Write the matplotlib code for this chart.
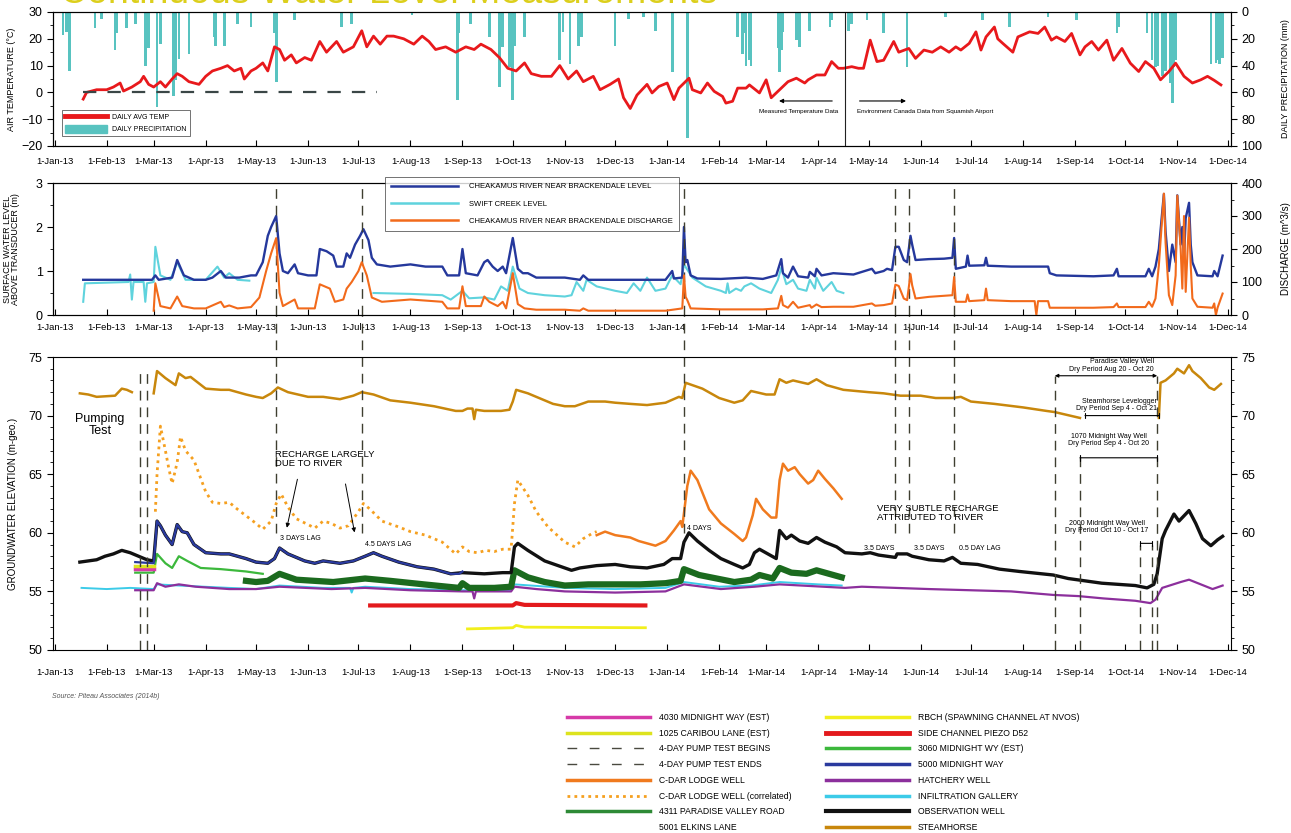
import numpy as np
import matplotlib
matplotlib.use("Agg")
import matplotlib.pyplot as plt
import matplotlib.dates as mdates
from matplotlib.lines import Line2D
from matplotlib.patches import Patch
from matplotlib import font_manager

names = {f.name for f in font_manager.fontManager.ttflist}
NARROW = 'Liberation Sans Narrow' if 'Liberation Sans Narrow' in names else 'Liberation Sans'
plt.rcParams['font.family'] = ['Liberation Sans', 'DejaVu Sans']
plt.rcParams['axes.linewidth'] = 0.8

T0 = np.datetime64('2013-01-01')

# ---- data: (days since 1-Jan-13, value) ----
temp_pts = [(17,-2.5),(19,0),(25,1),(31,1),(35,2),(39,3.5),(41,0.5),(46,2),(51,4),(53,6),(56,3),(59,2),(63,4),(66,2),
            (70,5),(73,7),(76,6),(80,4),(86,3),(90,6),(94,8),(99,9),(103,10),(107,8),(111,9),(113,5),(117,8),(120,9),
            (124,11),(127,8),(131,17),(134,16),(137,12),(141,14),(144,11),(149,13),(153,12),(158,19),(162,15),(168,19),
            (172,15),(178,17),(183,23),(186,17),(190,21),(194,18),(198,21),(202,21),(208,20),(214,18),(219,21),(223,19),
            (227,16),(233,17),(239,15),(245,17),(250,16),(254,18),(260,16),(265,13),(270,9),(275,8),(280,11),(284,7),
            (290,6),(296,6),(301,10),(306,5),(311,8),(315,4),(321,6),(325,1),(331,3),(336,5),(339,-2),(343,-6),(347,-1),
            (353,3),(356,-0.2),(360,2.2),(365,3.5),(369,-2.7),(372,1.6),(378,5.3),(380,1),(385,-0.2),(389,3.5),(393,0.4),
            (398,-1.5),(400,-4),(404,-3.3),(407,1.6),(412,1.6),(414,2.8),(420,-0.2),(424,4.7),(427,-2),(432,1),(437,4),
            (442,5.3),(447,3.5),(449,4.7),(454,6.5),(459,6.5),(463,11.5),(467,9),(470,9),(475,9.6),(479,9),(482,9),
            (486,19.5),(490,11.5),(494,12),(500,19),(503,15),(509,16.4),(513,12.7),(518,15.8),(523,15),(528,17),(533,15),
            (537,17),(540,15.8),(545,18.3),(549,22.6),(552,15.8),(555,20.7),(560,24.4),(562,20),(565,18.3),(571,15),
            (574,20.7),(581,22.6),(586,22),(590,24.4),(594,19.5),(597,20.7),(602,19),(606,22),(611,14),(614,17),(618,19),
            (622,15.8),(627,19.5),(631,12),(636,16.4),(641,10.9),(646,7.8),(650,11.5),(655,9),(659,4.7),(664,7.8),
            (668,10.9),(673,6),(678,3.5),(683,4.7),(687,6),(691,4.5),(695,2.8)]

precip_pts = [(5,17),(7,15),(9,44),(24,12),(28,5),(36,28),(37,16),(43,12),(48,9),(54,40),(56,27),(61,71),(63,24),
              (71,63),(72,51),(74,35),(80,31),(95,19),(96,25),(101,25),(109,9),(117,11),(131,16),(132,52),(143,6),
              (171,11),(177,9),(213,2),(240,66),(241,16),(248,9),(259,19),(265,56),(267,26),(271,41),(272,35),(273,66),
              (274,25),(280,19),(301,36),(303,15),(307,39),(312,25),(314,19),(334,25),(342,5),(351,4),(358,14),(368,45),
              (377,94),(407,19),(410,31),(411,16),(412,40),(414,36),(415,40),(431,27),(432,45),(433,28),(434,15),(442,21),
              (443,10),(444,26),(450,14),(462,11),(463,6),(473,14),(475,9),(484,6),(494,16),(508,41),(531,4),(553,6),
              (569,11),(592,4),(609,6),(633,16),(634,11),(651,16),(654,36),(656,41),(657,40),(660,48),(662,44),(665,53),
              (666,68),(667,41),(668,36),(689,39),(692,38),(693,36),(694,39),(696,34)]

cheak_level = [(17,0.8),(58,0.8),(60,0.9),(62,0.8),(70,0.85),(73,1.25),(77,0.9),(83,0.8),(90,0.8),(94,0.85),(99,1.0),
               (102,0.85),(110,0.85),(117,0.9),(120,0.9),(124,1.2),(127,1.8),(129,2.0),(132,2.25),(134,1.4),(136,1.0),
               (139,0.95),(143,1.15),(145,0.95),(151,0.9),(156,0.9),(158,1.5),(162,1.45),(166,1.35),(168,1.1),(172,1.1),
               (174,1.4),(176,1.3),(179,1.6),(182,1.8),(184,1.95),(187,1.7),(189,1.3),(192,1.15),(200,1.1),(212,1.15),
               (221,1.1),(231,1.1),(234,0.9),(241,0.9),(243,1.5),(245,0.95),(252,0.9),(256,1.2),(258,1.25),(261,1.1),
               (264,1.0),(267,1.1),(269,0.95),(273,1.75),(276,1.05),(279,0.95),(282,0.95),(287,0.85),(304,0.85),
               (313,0.8),(315,0.9),(318,0.8),(334,0.8),(364,0.8),(368,1.0),(369,0.83),(374,0.85),(375,2.0),(376,1.2),
               (377,1.25),(379,0.9),(383,0.83),(397,0.82),(412,0.85),(422,0.82),(430,0.9),(433,1.27),(434,0.95),
               (437,0.85),(440,1.1),(443,0.88),(449,0.85),(450,0.98),(453,0.88),(454,1.05),(457,0.9),(464,0.95),
               (476,0.92),(487,1.05),(489,0.95),(494,1.0),(496,1.05),(499,1.02),(501,1.55),(503,1.55),(506,1.25),
               (508,1.2),(510,1.8),(511,1.6),(513,1.25),(521,1.27),(530,1.28),(535,1.3),(536,1.75),(537,1.05),(543,1.1),
               (544,1.35),(545,1.12),(554,1.13),(555,1.3),(556,1.12),(570,1.1),(592,1.1),(593,0.95),(597,0.9),(619,0.88),
               (631,0.9),(633,1.05),(634,0.88),(650,0.88),(652,1.05),(654,0.88),(656,1.1),(658,1.5),(661,2.75),(662,1.9),
               (664,1.0),(666,1.6),(668,1.2),(669,2.72),(671,1.6),(672,2.0),(673,1.3),(674,2.2),(676,2.55),(677,1.6),
               (678,1.2),(681,0.9),(690,0.88),(691,1.0),(693,0.88),(696,1.35)]

swift_a = [(17,0.3),(18,0.72),(44,0.75),(45,0.92),(46,0.35),(47,0.75),(53,0.75),(54,0.3),(55,0.72),(59,0.75),(60,1.55),
           (63,0.9),(69,0.8),(73,1.2),(78,0.8),(90,0.8),(97,1.1),(101,0.85),(104,0.95),(109,0.8),(116,0.78)]
swift_b = [(190,0.5),(212,0.48),(231,0.45),(236,0.35),(243,0.55),(247,0.38),(256,0.4),(262,0.35),(266,0.65),(270,0.55),
           (273,1.1),(277,0.6),(282,0.5),(292,0.45),(304,0.42),(308,0.45),(311,0.75),(315,0.55),(317,0.8),(323,0.65),
           (334,0.55),(341,0.5),(345,0.72),(349,0.55),(353,0.85),(358,0.55),(364,0.6),(368,0.9),(373,0.7),(375,1.15),
           (380,0.85),(388,0.65),(397,0.55),(400,0.5),(401,0.72),(402,0.5),(406,0.6),(409,0.55),(411,0.65),(415,0.72),
           (420,0.6),(427,0.5),(431,0.8),(433,1.08),(436,0.7),(440,0.8),(443,0.6),(448,0.55),(450,0.8),(453,0.6),
           (454,0.85),(458,0.55),(463,0.75),(466,0.55),(470,0.5)]

discharge = [(59,13),(60,96),(63,27),(69,20),(73,56),(76,27),(83,20),(90,20),(99,40),(101,24),(104,29),(109,20),
             (117,24),(122,53),(126,133),(129,187),(132,233),(134,67),(136,27),(143,47),(145,20),(155,20),(158,93),
             (164,80),(167,40),(172,47),(174,80),(177,100),(181,133),(183,160),(186,120),(189,53),(195,40),(212,47),
             (231,40),(234,20),(241,20),(243,87),(245,27),(254,27),(256,56),(259,40),(264,27),(267,40),(269,20),
             (273,127),(276,33),(280,20),(287,16),(304,16),(313,13),(315,20),(318,13),(364,13),(374,20),(375,120),
             (376,55),(377,45),(379,20),(397,17),(412,17),(422,17),(431,20),(433,58),(434,30),(437,22),(440,40),
             (443,22),(450,30),(451,22),(454,32),(457,24),(464,25),(476,25),(487,35),(489,28),(494,30),(499,35),
             (501,92),(503,88),(506,50),(508,45),(510,124),(511,90),(513,50),(521,55),(535,60),(536,115),(537,40),
             (543,40),(544,62),(545,42),(554,45),(555,80),(556,45),(570,42),(584,42),(585,0),(586,42),(592,42),
             (593,22),(619,22),(631,24),(633,35),(634,24),(650,24),(652,40),(654,25),(656,50),(658,150),(661,368),
             (662,220),(664,60),(666,30),(668,120),(669,362),(671,200),(672,80),(673,300),(674,70),(676,295),(677,150),
             (678,50),(681,25),(690,22),(691,35),(692,0),(693,22),(696,65)]

steam_a = [(15,71.9),(20,71.8),(25,71.6),(36,71.7),(40,72.3),(43,72.2),(46,72.0)]
steam_b = [(59,71.9),(61,73.8),(66,73.2),(69,72.9),(72,72.6),(74,73.6),(78,73.2),(81,73.3),(90,72.3),(99,72.2),
           (104,72.2),(114,71.8),(120,71.6),(124,71.5),(129,71.9),(133,72.4),(139,72.0),(151,71.6),(160,71.6),
           (170,71.4),(178,71.7),(183,72.0),(190,71.8),(200,71.3),(212,71.1),(226,70.8),(239,70.4),(243,70.4),
           (246,70.6),(249,70.6),(250,69.7),(251,70.5),(256,70.4),(266,70.4),(271,70.5),(273,71.2),(275,72.2),
           (282,71.9),(297,71.0),(304,70.8),(310,70.8),(318,71.2),(328,71.2),(334,71.1),(343,71.0),(353,70.9),
           (364,71.1),(372,71.6),(374,71.5),(376,72.8),(386,72.3),(396,71.5),(405,71.1),(410,71.3),(415,72.1),
           (424,71.8),(429,71.8),(432,73.1),(436,72.8),(440,73.0),(449,72.7),(454,73.1),(460,72.6),(470,72.2),
           (485,72.0),(494,71.9),(504,71.7),(516,71.7),(525,71.5),(535,71.5),(540,71.6),(546,71.2),(560,71.0),
           (577,70.7),(591,70.4),(596,70.3),(608,69.9),(611,69.8)]
steam_c = [(658,69.8),(659,72.8),(662,73.0),(667,73.6),(669,74.0),(673,73.6),(676,74.3),(678,73.8),(683,73.2),
           (688,72.4),(691,72.2),(695,72.7)]

cdar_corr = [(60,61.8),(61,65.0),(63,69.1),(66,67.0),(68,65.5),(70,64.2),(73,66.0),(75,68.2),(78,67.0),(83,66.2),
             (90,63.5),(94,62.6),(99,62.5),(104,62.6),(109,62.0),(120,60.8),(124,60.3),(129,61.0),(132,62.5),(135,63.3),
             (139,62.2),(144,61.2),(151,60.7),(155,60.4),(160,61.0),(165,60.8),(170,60.4),(175,60.6),(181,61.8),
             (184,62.5),(188,62.0),(195,61.0),(205,60.5),(212,60.1),(221,59.8),(231,59.2),(239,58.2),(243,58.8),
             (247,58.4),(252,58.3),(257,58.5),(262,58.4),(267,58.6),(272,58.6),(274,62.5),(276,64.5),(282,63.2),
             (287,61.8),(294,60.5),(304,59.2),(310,58.8),(315,59.5),(321,60.0),(323,60.1)]
cdar = [(323,59.8),(328,60.1),(334,59.8),(343,59.6),(348,59.3),(358,58.9),(364,59.3),(369,60.2),(373,61.0),(374,60.5),
        (377,64.0),(379,65.3),(383,64.5),(390,62.0),(397,60.8),(405,59.9),(410,59.3),(412,59.6),(416,61.5),(418,62.9),
        (422,62.0),(427,61.3),(430,61.3),(432,64.5),(434,65.9),(437,65.3),(441,65.6),(444,65.0),(449,64.2),(452,64.5),
        (455,65.3),(459,64.6),(464,63.8),(469,62.9)]

mw5000 = [(48,57.5),(59,57.4),(61,61.0),(63,60.6),(66,59.8),(70,59.0),(73,60.7),(76,60.1),(79,60.0),(83,59.0),(90,58.3),
          (99,58.2),(104,58.2),(114,57.8),(120,57.5),(127,57.4),(131,57.8),(134,58.7),(139,58.2),(149,57.6),(155,57.4),
          (160,57.6),(170,57.4),(178,57.6),(185,58.0),(190,58.3),(195,58.0),(205,57.5),(216,57.1),(226,56.9),
          (236,56.5),(241,56.5),(243,56.7)]

obs_well = [(15,57.5),(20,57.6),(25,57.7),(30,58.0),(35,58.2),(40,58.5),(45,58.3),(50,58.0),(55,57.7),(59,57.6),
            (61,61.0),(63,60.6),(66,59.8),(70,59.0),(73,60.7),(76,60.1),(79,60.0),(83,59.0),(90,58.3),(99,58.2),
            (104,58.2),(114,57.8),(120,57.5),(127,57.4),(131,57.8),(134,58.7),(139,58.2),(149,57.6),(155,57.4),
            (160,57.6),(170,57.4),(178,57.6),(185,58.0),(190,58.3),(195,58.0),(205,57.5),(216,57.1),(226,56.9),
            (236,56.5),(243,56.6),(256,56.5),(267,56.6),(272,56.6),(274,58.8),(276,59.1),(282,58.5),(292,57.6),
            (302,57.1),(308,56.8),(313,57.0),(323,57.2),(334,57.3),(343,57.1),(353,57.0),(363,57.3),(368,57.8),
            (373,57.8),(374,58.5),(375,59.2),(378,60.0),(383,59.3),(390,58.5),(397,57.8),(405,57.3),(410,57.0),
            (414,57.3),(417,58.3),(420,58.6),(425,58.2),(430,57.8),(432,60.2),(436,59.5),(439,59.8),(444,59.3),
            (449,59.1),(454,59.6),(459,59.2),(466,58.8),(471,58.3),(481,58.2),(486,58.3),(491,58.1),(501,57.9),
            (502,58.2),(508,58.2),(511,58.0),(521,57.7),(530,57.6),(535,57.9),(540,57.4),(550,57.3),(563,56.9),
            (575,56.7),(595,56.4),(604,56.1),(614,55.9),(624,55.7),(634,55.6),(644,55.5),(651,55.3),(655,55.6),
            (657,56.5),(660,59.5),(662,60.2),(667,61.6),(670,61.0),(672,61.3),(676,61.9),(680,60.8),(684,59.5),
            (689,58.9),(693,59.4),(696,59.7)]

pvr4311 = [(114,55.9),(120,55.8),(127,55.9),(134,56.5),(144,56.0),(155,55.9),(166,55.8),(185,56.1),(200,55.9),
           (220,55.6),(241,55.3),(243,55.7),(247,55.3),(262,55.3),(272,55.4),(274,56.8),(282,56.2),(292,55.8),
           (304,55.5),(318,55.6),(334,55.6),(349,55.6),(364,55.7),(373,55.9),(375,56.9),(384,56.4),(405,55.8),
           (415,56.0),(420,56.4),(428,56.1),(432,57.0),(439,56.6),(448,56.5),(454,56.8),(464,56.4),(469,56.2)]
mw3060 = [(48,56.6),(59,56.6),(61,58.2),(66,57.4),(70,57.0),(74,58.0),(79,57.6),(87,57.0),(99,56.9),(114,56.7),(124,56.5)]
hatchery = [(48,55.1),(59,55.1),(61,55.7),(66,55.4),(74,55.6),(84,55.4),(104,55.2),(120,55.2),(134,55.4),(165,55.2),
            (185,55.3),(212,55.1),(243,55.0),(249,55.0),(250,54.4),(251,55.0),(272,55.0),(274,55.4),(287,55.2),
            (304,55.0),(334,54.9),(364,55.0),(375,55.6),(397,55.2),(417,55.4),(432,55.6),(471,55.3),(481,55.4),
            (521,55.2),(570,55.0),(595,54.7),(610,54.6),(625,54.4),(644,54.2),(653,54.0),(656,54.3),(660,55.3),
            (671,55.8),(676,56.0),(683,55.6),(690,55.2),(696,55.5)]
infiltration = [(16,55.3),(31,55.2),(45,55.3),(59,55.2),(61,55.6),(74,55.5),(104,55.3),(120,55.2),(134,55.5),(160,55.3),
                (176,55.3),(177,54.9),(178,55.3),(185,55.4),(212,55.2),(243,55.1),(272,55.1),(274,55.6),(304,55.3),
                (334,55.2),(364,55.3),(375,55.8),(396,55.4),(415,55.5),(432,55.8),(455,55.6),(469,55.5)]
piezo_d52 = [(188,53.8),(273,53.8),(275,54.0),(280,53.85),(352,53.8)]
rbch = [(246,51.8),(273,51.9),(275,52.1),(280,51.95),(352,51.9)]
mw4030 = [(48,56.9),(59,56.9)]
caribou1025 = [(48,57.2),(59,57.2)]

pump_test_days = [51, 55]
river_event_days = [132, 183, 375, 501, 509, 536]


def xy(pts):
    a = np.array(pts, dtype=float)
    return T0 + a[:, 0].astype(int).astype('timedelta64[D]'), a[:, 1]


def dt(day):
    return T0 + np.timedelta64(int(day), 'D')


fig = plt.figure(figsize=(12.91, 8.33), dpi=100)
L, W = 53 / 1291, 1178 / 1291
ax1 = fig.add_axes([L, 1 - 146 / 833, W, 134 / 833])
ax2 = fig.add_axes([L, 1 - 315 / 833, W, 132 / 833])
ax3 = fig.add_axes([L, 1 - 650 / 833, W, 293 / 833])

XMIN, XMAX = np.datetime64('2012-12-31'), np.datetime64('2014-12-03')
DASH = dict(color='#3e3e30', lw=1.0, dashes=(7, 5))


def style_x(ax, pad):
    ax.set_xlim(XMIN, XMAX)
    ax.xaxis.set_major_locator(mdates.MonthLocator())
    ax.xaxis.set_major_formatter(mdates.DateFormatter('1-%b-%y'))
    ax.tick_params(axis='x', direction='in', length=4, labelsize=6.8, pad=pad)
    ax.tick_params(axis='y', direction='out', labelsize=9, length=4)
    ax.tick_params(axis='y', which='minor', direction='out', length=2)


# ---------------- top panel ----------------
ax1b = ax1.twinx()
pd_, pv = xy(precip_pts)
ax1b.bar(pd_, pv, width=1.6, color='#58c3c0', align='center')
ax1b.set_ylim(100, 0)
ax1b.set_yticks([0, 20, 40, 60, 80, 100])
ax1b.yaxis.set_minor_locator(plt.MultipleLocator(10))
ax1b.tick_params(axis='y', labelsize=9, length=4)
ax1b.tick_params(axis='y', which='minor', length=2)
ax1b.set_ylabel('DAILY PRECIPITATION (mm)', fontsize=6.5)
ax1b.yaxis.set_label_coords(1.0425, 0.5)
ax1.set_zorder(ax1b.get_zorder() + 1)
ax1.patch.set_visible(False)

td, tv = xy(temp_pts)
ax1.plot(td, tv, color='#e8191c', lw=2.0)
ax1.plot([dt(17), dt(192)], [0, 0], color='#3a4646', lw=1.6, dashes=(6, 5))
ax1.axvline(dt(471), color='#222222', lw=0.8)
ax1.annotate('', xy=(dt(430), -3.2), xytext=(dt(465), -3.2),
             arrowprops=dict(arrowstyle='-|>', color='k', lw=0.8, mutation_scale=6))
ax1.annotate('', xy=(dt(509), -3.2), xytext=(dt(478), -3.2),
             arrowprops=dict(arrowstyle='-|>', color='k', lw=0.8, mutation_scale=6))
ax1.text(dt(467), -7, 'Measured Temperature Data', fontsize=4.5, ha='right', va='center', family=NARROW)
ax1.text(dt(478), -7, 'Environment Canada Data from Squamish Airport', fontsize=4.5, ha='left', va='center',
         family=NARROW)
ax1.set_ylim(-20, 30)
ax1.set_yticks([-20, -10, 0, 10, 20, 30])
ax1.yaxis.set_minor_locator(plt.MultipleLocator(5))
ax1.set_ylabel('AIR TEMPERATURE (°C)', fontsize=6.5)
ax1.yaxis.set_label_coords(-0.031, 0.5)
style_x(ax1, 8)
leg1 = ax1.legend([Line2D([], [], color='#e8191c', lw=3.5), Patch(color='#58c3c0')],
                  ['DAILY AVG TEMP', 'DAILY PRECIPITATION'], loc='lower left', bbox_to_anchor=(0.008, 0.075),
                  handlelength=6.0, handleheight=1.4, frameon=True, fancybox=False, borderaxespad=0,
                  labelspacing=0.6, prop={'family': NARROW, 'size': 5})
leg1.get_frame().set_edgecolor('#333333')
leg1.get_frame().set_linewidth(0.6)

# ---------------- middle panel ----------------
ax2b = ax2.twinx()
qd, qv = xy(discharge)
ax2b.plot(qd, qv, color='#f26a1b', lw=1.5)
ax2b.set_ylim(0, 400)
ax2b.set_yticks([0, 100, 200, 300, 400])
ax2b.yaxis.set_minor_locator(plt.MultipleLocator(50))
ax2b.tick_params(axis='y', labelsize=9, length=4)
ax2b.tick_params(axis='y', which='minor', length=2)
ax2b.set_ylabel('DISCHARGE (m^3/s)', fontsize=7)
ax2b.yaxis.set_label_coords(1.0425, 0.5)

for seg in (swift_a, swift_b):
    sd, sv = xy(seg)
    ax2.plot(sd, sv, color='#5fd3dd', lw=1.5)
cd_, cv = xy(cheak_level)
ax2.plot(cd_, cv, color='#25389c', lw=1.7)
for dday in river_event_days:
    ax2.axvline(dt(dday), **DASH)
ax2.set_ylim(0, 3)
ax2.set_yticks([0, 1, 2, 3])
ax2.yaxis.set_minor_locator(plt.MultipleLocator(0.5))
ax2.set_ylabel('SURFACE WATER LEVEL\nABOVE TRANSDUCER (m)', fontsize=6.5, linespacing=0.9)
ax2.yaxis.set_label_coords(-0.028, 0.5)
style_x(ax2, 6)
leg2 = ax2b.legend([Line2D([], [], color='#25389c', lw=1.8), Line2D([], [], color='#5fd3dd', lw=1.8),
                    Line2D([], [], color='#f26a1b', lw=1.8)],
                   ['CHEAKAMUS RIVER NEAR BRACKENDALE LEVEL', 'SWIFT CREEK LEVEL',
                    'CHEAKAMUS RIVER NEAR BRACKENDALE DISCHARGE'],
                   loc='upper left', bbox_to_anchor=((385 - 53) / 1178, (315 - 177) / 132), frameon=True,
                   fancybox=False, borderaxespad=0, handlelength=8.8, handletextpad=1.4, labelspacing=1.3,
                   borderpad=0.8, prop={'family': NARROW, 'size': 5.5})
leg2.get_frame().set_edgecolor('#333333')
leg2.get_frame().set_linewidth(0.6)

# ---------------- bottom panel ----------------
ax3.set_ylim(50, 75)
style_x(ax3, 13)
ax3.set_yticks([50, 55, 60, 65, 70, 75])
ax3.yaxis.set_minor_locator(plt.MultipleLocator(1))
ax3.tick_params(axis='y', which='both', right=True, labelright=True)
ax3.set_ylabel('GROUNDWATER ELEVATION (m-geo.)', fontsize=7)
ax3.yaxis.set_label_coords(-0.03, 0.5)

for pts, col, lw in [(rbch, '#f2ef1c', 2.0), (piezo_d52, '#e3191c', 3.0), (infiltration, '#3ccbe8', 1.4),
                     (hatchery, '#8c2f9c', 1.6), (pvr4311, '#1b6a1e', 4.5), (mw3060, '#3cb83c', 1.6)]:
    xd, yv = xy(pts)
    ax3.plot(xd, yv, color=col, lw=lw)
xd, yv = xy(obs_well)
ax3.plot(xd, yv, color='#111111', lw=2.4)
xd, yv = xy(mw5000)
ax3.plot(xd, yv, color='#2a3a9e', lw=1.6)
xd, yv = xy(cdar_corr)
ax3.plot(xd, yv, color='#f5a020', lw=2.0, ls=(0, (1, 1.5)))
xd, yv = xy(cdar)
ax3.plot(xd, yv, color='#f07a1e', lw=1.8)
for seg in (steam_a, steam_b, steam_c):
    xd, yv = xy(seg)
    ax3.plot(xd, yv, color='#c8870c', lw=1.8)
for pts, col in [(mw4030, '#d63aa8'), (caribou1025, '#dde31e')]:
    xd, yv = xy(pts)
    ax3.plot(xd, yv, color=col, lw=2.5)

for dday in pump_test_days:
    ax3.plot([dt(dday), dt(dday)], [50, 73.9], **DASH)
for dday in river_event_days:
    ax3.plot([dt(dday), dt(dday)], [60.0, 78.6], clip_on=False, **DASH)
for dday, top in [(596, 73.4), (611, 66.5), (657, 73.4), (647, 59.0), (654, 59.0)]:
    ax3.plot([dt(dday), dt(dday)], [50, top], **DASH)

BR = dict(arrowstyle='|-|,widthA=0.2,widthB=0.2', color='k', lw=0.8, shrinkA=0, shrinkB=0)
ax3.annotate('', xy=(dt(657), 73.4), xytext=(dt(596), 73.4),
             arrowprops=dict(arrowstyle='<|-|>', color='k', lw=0.8, mutation_scale=5, shrinkA=0, shrinkB=0))
ax3.annotate('', xy=(dt(658), 70.0), xytext=(dt(614), 70.0), arrowprops=BR)
ax3.annotate('', xy=(dt(657), 66.4), xytext=(dt(611), 66.4), arrowprops=BR)
ax3.annotate('', xy=(dt(654), 59.1), xytext=(dt(647), 59.1), arrowprops=BR)
small = dict(fontsize=5, family=NARROW, ha='right', va='center')
ax3.text(dt(655), 74.6, 'Paradise Valley Well', **small)
ax3.text(dt(655), 73.9, 'Dry Period Aug 20 - Oct 20', **small)
ax3.text(dt(657), 71.2, 'Steamhorse Levelogger', **small)
ax3.text(dt(657), 70.6, 'Dry Period Sep 4 - Oct 21', **small)
ax3.text(dt(628), 68.25, '1070 Midnight Way Well', fontsize=5, family=NARROW, ha='center', va='center')
ax3.text(dt(628), 67.6, 'Dry Period Sep 4 - Oct 20', fontsize=5, family=NARROW, ha='center', va='center')
ax3.text(dt(627), 60.8, '2000 Midnight Way Well', fontsize=5, family=NARROW, ha='center', va='center')
ax3.text(dt(627), 60.2, 'Dry Period Oct 10 - Oct 17', fontsize=5, family=NARROW, ha='center', va='center')

ax3.text(dt(27), 69.2, 'Pumping\nTest', fontsize=9, ha='center', va='center', linespacing=1.1)
ax3.text(dt(131), 66.3, 'RECHARGE LARGELY\nDUE TO RIVER', fontsize=6.8, family=NARROW, ha='left', va='center',
         linespacing=1.1)
ARW = dict(arrowstyle='-|>', color='k', lw=0.7, mutation_scale=6)
ax3.annotate('', xy=(dt(138), 60.2), xytext=(dt(145), 64.8), arrowprops=ARW)
ax3.annotate('', xy=(dt(179), 59.8), xytext=(dt(173), 64.4), arrowprops=ARW)
lab = dict(fontsize=5, family=NARROW, ha='left', va='center')
ax3.text(dt(134), 59.5, '3 DAYS LAG', **lab)
ax3.text(dt(185), 59.0, '4.5 DAYS LAG', **lab)
ax3.text(dt(377), 60.4, '4 DAYS', **lab)
ax3.text(dt(482), 58.7, '3.5 DAYS', **lab)
ax3.text(dt(512), 58.7, '3.5 DAYS', **lab)
ax3.text(dt(539), 58.7, '0.5 DAY LAG', **lab)
ax3.text(dt(490), 61.7, 'VERY SUBTLE RECHARGE\nATTRIBUTED TO RIVER', fontsize=6.8, family=NARROW, ha='left',
         va='center', linespacing=1.1)

# ---------------- title, source, legend ----------------
fig.text(60 / 1291, 1 - 3 / 833, 'Continuous Water Level Measurements', fontsize=27, color='#dccf1c',
         ha='left', va='baseline')
fig.text(52 / 1291, 1 - 697 / 833, 'Source: Piteau Associates (2014b)', fontsize=5, style='italic',
         color='#555555', va='center')

col1 = [(Line2D([], [], color='#d63aa8', lw=2.5), '4030 MIDNIGHT WAY (EST)'),
        (Line2D([], [], color='#dde31e', lw=2.5), '1025 CARIBOU LANE (EST)'),
        (Line2D([], [], color='#4a4a40', lw=1.0, dashes=(7, 9)), '4-DAY PUMP TEST BEGINS'),
        (Line2D([], [], color='#4a4a40', lw=1.0, dashes=(7, 9)), '4-DAY PUMP TEST ENDS'),
        (Line2D([], [], color='#f07a1e', lw=2.5), 'C-DAR LODGE WELL'),
        (Line2D([], [], color='#f5a020', lw=2.0, ls=(0, (1, 1.5))), 'C-DAR LODGE WELL (correlated)'),
        (Line2D([], [], color='#2e8a36', lw=2.5), '4311 PARADISE VALLEY ROAD'),
        (Line2D([], [], color='none', lw=2.5), '5001 ELKINS LANE')]
col2 = [(Line2D([], [], color='#f2ef1c', lw=2.5), 'RBCH (SPAWNING CHANNEL AT NVOS)'),
        (Line2D([], [], color='#e3191c', lw=3.5), 'SIDE CHANNEL PIEZO D52'),
        (Line2D([], [], color='#3cb83c', lw=2.5), '3060 MIDNIGHT WY (EST)'),
        (Line2D([], [], color='#2a3a9e', lw=2.5), '5000 MIDNIGHT WAY'),
        (Line2D([], [], color='#8c2f9c', lw=2.5), 'HATCHERY WELL'),
        (Line2D([], [], color='#3ccbe8', lw=2.5), 'INFILTRATION GALLERY'),
        (Line2D([], [], color='#111111', lw=3.0), 'OBSERVATION WELL'),
        (Line2D([], [], color='#c8870c', lw=2.5), 'STEAMHORSE')]
for col, x0 in [(col1, 567), (col2, 826)]:
    fig.legend([h for h, _ in col], [t for _, t in col], loc='upper left',
               bbox_to_anchor=(x0 / 1291, 1 - 713 / 833), frameon=False, borderpad=0, borderaxespad=0,
               handlelength=9.6, handletextpad=1.1, labelspacing=0.78, prop={'family': NARROW, 'size': 6.2})

fig.savefig('out.png', dpi=100)
